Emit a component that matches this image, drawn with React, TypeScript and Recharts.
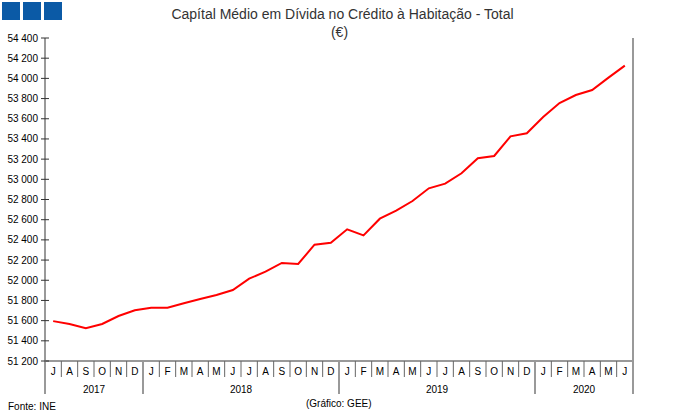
import { LineChart, Line, XAxis, YAxis } from 'recharts'

const months = [
  'J', 'A', 'S', 'O', 'N', 'D',
  'J', 'F', 'M', 'A', 'M', 'J', 'J', 'A', 'S', 'O', 'N', 'D',
  'J', 'F', 'M', 'A', 'M', 'J', 'J', 'A', 'S', 'O', 'N', 'D',
  'J', 'F', 'M', 'A', 'M', 'J',
]
const years = [
  2017, 2017, 2017, 2017, 2017, 2017,
  2018, 2018, 2018, 2018, 2018, 2018, 2018, 2018, 2018, 2018, 2018, 2018,
  2019, 2019, 2019, 2019, 2019, 2019, 2019, 2019, 2019, 2019, 2019, 2019,
  2020, 2020, 2020, 2020, 2020, 2020,
]
const valores = [
  51595, 51567, 51525, 51567, 51646, 51702,
  51728, 51728, 51772, 51814, 51854, 51903, 52016, 52085, 52171, 52161, 52352, 52372,
  52505, 52445, 52610, 52689, 52785, 52911, 52957, 53060, 53208, 53231, 53426, 53456,
  53617, 53756, 53835, 53885, 54007, 54126,
]
const yTicks = [
  51200, 51400, 51600, 51800, 52000, 52200, 52400, 52600, 52800,
  53000, 53200, 53400, 53600, 53800, 54000, 54200, 54400,
]

const data = months.map((m, i) => ({ idx: i, mes: m, ano: years[i], valor: valores[i] }))

const W = 679
const H = 418
const LEFT = 45
const RIGHT = 46
const TOP = 38
const BOTTOM = 57
const BAND = (W - LEFT - RIGHT) / months.length
const FONT = '"Liberation Sans", Arial, sans-serif'

const fmt = (v: number) => `${Math.floor(v / 1000)} ${String(v % 1000).padStart(3, '0')}`

function YTick(props: any) {
  const { x, y, payload, side } = props
  const left = side === 'left'
  return (
    <g>
      <line x1={x - 4} x2={x + 4} y1={y} y2={y} stroke="#333" strokeWidth={1} />
      <text
        x={left ? x - 7 : x + 8}
        y={y}
        dy="0.35em"
        textAnchor={left ? 'end' : 'start'}
        fontSize={10}
        fontFamily={FONT}
        fill="#000"
      >
        {fmt(payload.value)}
      </text>
    </g>
  )
}

function MonthTick(props: any) {
  const { x, y, payload } = props
  const i = payload.value
  const leftEdge = x - BAND / 2
  const newYear = i === 0 || years[i] !== years[i - 1]
  const last = i === months.length - 1
  let yearLabel = null
  if (newYear) {
    let n = 0
    while (i + n < years.length && years[i + n] === years[i]) n++
    yearLabel = (
      <text x={leftEdge + (n * BAND) / 2} y={y + 32} textAnchor="middle" fontSize={10} fontFamily={FONT} fill="#000">
        {years[i]}
      </text>
    )
  }
  return (
    <g>
      <line
        x1={leftEdge}
        x2={leftEdge}
        y1={y}
        y2={newYear ? y + 33 : y + 16}
        stroke={newYear ? '#999' : '#666'}
        strokeWidth={newYear ? 2 : 1}
      />
      {last && <line x1={x + BAND / 2} x2={x + BAND / 2} y1={y} y2={y + 33} stroke="#999" strokeWidth={2} />}
      <text x={x} y={y + 14} textAnchor="middle" fontSize={10} fontFamily={FONT} fill="#000">
        {months[i]}
      </text>
      {yearLabel}
    </g>
  )
}

export default function App() {
  return (
    <div style={{ position: 'absolute', left: 0, top: 0, width: W, height: H, background: '#fff', fontFamily: FONT }}>
      {[0, 1, 2].map(k => (
        <div
          key={k}
          style={{ position: 'absolute', left: 2 + k * 21, top: 2, width: 18, height: 18, background: '#0b5aa6' }}
        />
      ))}
      <div style={{ position: 'absolute', left: 0, width: W, top: 5, textAlign: 'center', fontSize: 14, lineHeight: '18px', color: '#333', paddingLeft: 6, boxSizing: 'border-box' }}>
        Capítal Médio em Dívida no Crédito à Habitação - Total
      </div>
      <div style={{ position: 'absolute', left: 0, width: W, top: 23, textAlign: 'center', fontSize: 14, lineHeight: '18px', color: '#333' }}>
        (€)
      </div>
      <LineChart width={W} height={H} data={data} margin={{ top: TOP, right: 0, bottom: 0, left: 0 }}>
        <XAxis
          dataKey="idx"
          scale="band"
          height={BOTTOM}
          interval={0}
          tickSize={0}
          tickMargin={0}
          stroke="#999"
          strokeWidth={2}
          tick={<MonthTick />}
        />
        <YAxis
          yAxisId="left"
          width={LEFT}
          domain={[51200, 54400]}
          ticks={yTicks}
          interval={0}
          tickSize={0}
          tickMargin={0}
          stroke="#999"
          strokeWidth={2}
          tick={<YTick side="left" />}
        />
        <YAxis
          yAxisId="right"
          orientation="right"
          width={RIGHT}
          domain={[51200, 54400]}
          ticks={yTicks}
          interval={0}
          tickSize={0}
          tickMargin={0}
          stroke="#999"
          strokeWidth={2}
          tick={<YTick side="right" />}
        />
        <Line
          yAxisId="left"
          type="linear"
          dataKey="valor"
          stroke="#ff0000"
          strokeWidth={2}
          dot={false}
          isAnimationActive={false}
        />
      </LineChart>
      <div style={{ position: 'absolute', left: 8, top: 401, fontSize: 10, color: '#000' }}>Fonte: INE</div>
      <div style={{ position: 'absolute', left: 306, top: 398, fontSize: 10, color: '#000' }}>(Gráfico: GEE)</div>
    </div>
  )
}
